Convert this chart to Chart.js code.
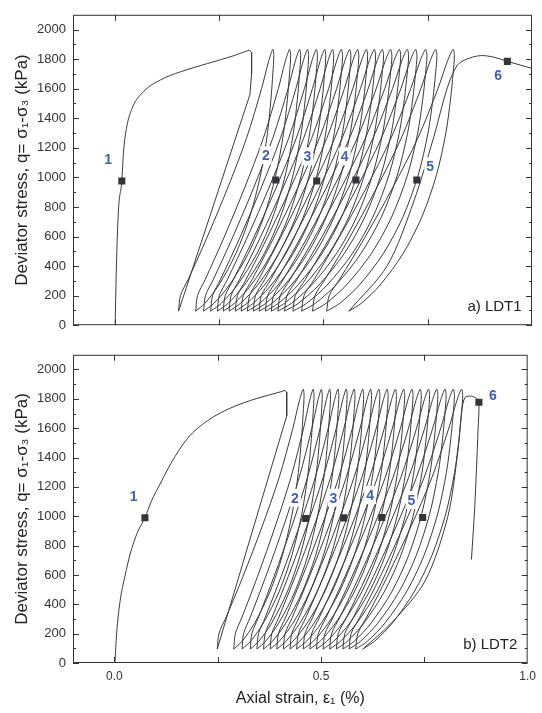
<!DOCTYPE html>
<html>
<head>
<meta charset="utf-8">
<script src="https://cdn.jsdelivr.net/npm/chart.js@4.4.1/dist/chart.umd.min.js"></script>
<style>
    html, body { margin: 0; padding: 0; background: #fff; }
    #wrap { position: relative; width: 542px; height: 713px; }
    #ldt1-chart { position: absolute; left: 0; top: 0; }
    #ldt2-chart { position: absolute; left: 0; top: 340px; }
</style>
</head>
<body>
<div id="wrap">
    <canvas id="ldt1-chart" width="542" height="340"></canvas>
    <canvas id="ldt2-chart" width="542" height="373"></canvas>
</div>
<script>
//////////////////////////////////////////////////////////////////////////////////////
//////////////////////----------------DATA----------------///////////////////////////
// axes
var xTickLabels = [0, 0.5, 1.0]
var xTickMarks = [0, 0.25, 0.5, 0.75]
var qTickLabels = [0, 200, 400, 600, 800, 1000, 1200, 1400, 1600, 1800, 2000]
var qMinorTicks = [100, 300, 500, 700, 900, 1100, 1300, 1500, 1700, 1900]

// a) LDT1 - first (monotonic) loading, then its unloading
var ldt1MonoX = [0.001, 0.004, 0.009, 0.017, 0.021, 0.028, 0.042, 0.070, 0.110, 0.158, 0.222, 0.286, 0.322]
var ldt1MonoQ = [0, 400, 780, 975, 1170, 1330, 1470, 1583, 1660, 1715, 1770, 1824, 1861]
var ldt1UnloadX = [0.322, 0.328, 0.328, 0.324, 0.153]
var ldt1UnloadQ = [1861, 1846, 1700, 1560, 95]
// cycles: strain at bottom of each unloading, strain at each peak
var ldt1BottomX = [0.153, 0.194, 0.213, 0.230, 0.246, 0.260, 0.274, 0.289, 0.303, 0.318, 0.332, 0.346, 0.361, 0.375, 0.391, 0.407, 0.427, 0.448, 0.474, 0.508, 0.561]
var ldt1PeakX = [0.379, 0.419, 0.443, 0.462, 0.483, 0.503, 0.522, 0.543, 0.563, 0.582, 0.603, 0.622, 0.641, 0.661, 0.682, 0.701, 0.721, 0.745, 0.769, 0.811]
var ldt1CycleQ = [95, 1866]
// last reloading up to failure
var ldt1FinalX = [0.561, 0.653, 0.717, 0.765, 0.797, 0.821, 0.845, 0.877, 0.909, 0.941, 0.973, 1.0]
var ldt1FinalQ = [95, 402, 840, 1277, 1606, 1759, 1802, 1824, 1813, 1785, 1759, 1737]
var ldt1MarkX = [0.017, 0.386, 0.484, 0.578, 0.724, 0.941]
var ldt1MarkQ = [975, 982, 976, 982, 982, 1785]
var ldt1LabelX = [-0.016, 0.362, 0.462, 0.551, 0.756, 0.919]
var ldt1LabelQ = [1124, 1150, 1142, 1142, 1076, 1693]

// b) LDT2
var ldt2MonoX = [0.0015, 0.0055, 0.0137, 0.0256, 0.040, 0.056, 0.074, 0.090, 0.108, 0.137, 0.177, 0.225, 0.281, 0.345, 0.405, 0.413]
var ldt2MonoQ = [0, 198, 417, 591, 760, 890, 990, 1105, 1205, 1360, 1530, 1650, 1737, 1803, 1850, 1858]
var ldt2UnloadX = [0.413, 0.417, 0.417, 0.249]
var ldt2UnloadQ = [1858, 1846, 1683, 95]
var ldt2BottomX = [0.249, 0.289, 0.309, 0.329, 0.345, 0.361, 0.377, 0.393, 0.409, 0.425, 0.441, 0.457, 0.473, 0.489, 0.505, 0.521, 0.537, 0.553, 0.568, 0.584, 0.601]
var ldt2PeakX = [0.457, 0.481, 0.501, 0.521, 0.541, 0.561, 0.580, 0.601, 0.620, 0.640, 0.660, 0.680, 0.700, 0.720, 0.740, 0.760, 0.780, 0.800, 0.820, 0.840]
var ldt2CycleQ = [95, 1866]
var ldt2FinalX = [0.601, 0.673, 0.752, 0.807, 0.831, 0.840, 0.848, 0.864, 0.876, 0.882, 0.880, 0.872, 0.864]
var ldt2FinalQ = [95, 280, 560, 1000, 1440, 1700, 1808, 1818, 1803, 1777, 1590, 1065, 705]
var ldt2MarkX = [0.074, 0.463, 0.555, 0.647, 0.746, 0.882]
var ldt2MarkQ = [990, 984, 989, 991, 991, 1777]
var ldt2LabelX = [0.047, 0.437, 0.530, 0.619, 0.719, 0.916]
var ldt2LabelQ = [1138, 1126, 1126, 1144, 1111, 1825]

var pointLabels = ['1', '2', '3', '4', '5', '6']

// loop shape (fraction of loop width / of stress range)
var reloadU = [0, 0.02, 0.10, 0.30, 0.52, 0.72, 0.88, 0.955, 1]
var reloadV = [0, 0.06, 0.12, 0.28, 0.47, 0.66, 0.85, 0.955, 1]
var unloadU = [1, 1.012, 1.0, 0.975, 0.93, 0.84, 0.70, 0.52, 0.30, 0.12, 0]
var unloadV = [1, 0.975, 0.91, 0.81, 0.68, 0.52, 0.36, 0.22, 0.10, 0.03, 0]

//////////////////////////////////////////////////////////////////////////////////////
var lineColor = '#3a3a3a'
var labelBlue = '#3f5fb8'
var textColor = '#333'
var fontFamily = "'Liberation Sans', Arial, sans-serif"

function toPoints(xs, qs) {
    return xs.map((x, i) => ({ x: x, y: qs[i] }))
}

function lineSet(points, tension) {
    return {
        data: points,
        showLine: true,
        borderColor: lineColor,
        borderWidth: 1,
        pointRadius: 0,
        tension: tension,
        order: 1
    }
}

//Each cycle: reload bottom[i] -> peak[i], unload peak[i] -> bottom[i+1]
function cycleSets(bottoms, peaks, cycleQ) {
    var qLo = cycleQ[0], qHi = cycleQ[1]
    var sets = []
    peaks.forEach((peak, i) => {
        var pts = []
        reloadU.forEach((u, k) => {
            pts.push({ x: bottoms[i] + u * (peak - bottoms[i]), y: qLo + reloadV[k] * (qHi - qLo) })
        })
        unloadU.forEach((u, k) => {
            if (k === 0) return
            pts.push({ x: bottoms[i + 1] + u * (peak - bottoms[i + 1]), y: qLo + unloadV[k] * (qHi - qLo) })
        })
        sets.push(lineSet(pts, 0.3))
    })
    return sets
}

function panelSets(monoX, monoQ, unX, unQ, bottoms, peaks, cycleQ, finalX, finalQ, markX, markQ) {
    var sets = [{
        data: toPoints(markX, markQ),
        pointStyle: 'rect',
        pointRadius: 5,
        backgroundColor: '#34343c',
        borderColor: '#34343c',
        borderWidth: 0,
        order: 0
    }]
    var mono = lineSet(toPoints(monoX, monoQ), 0)
    mono.cubicInterpolationMode = 'monotone'
    sets.push(mono)
    sets.push(lineSet(toPoints(unX, unQ), 0))
    sets = sets.concat(cycleSets(bottoms, peaks, cycleQ))
    sets.push(lineSet(toPoints(finalX, finalQ), 0.3))
    return sets
}

//Frame, inward ticks and point labels
function makeDecorPlugin(labelX, labelQ, tag) {
    return {
        id: 'decor',
        afterDatasetsDraw(chart) {
            var ctx = chart.ctx
            var a = chart.chartArea
            var x = chart.scales.x, y = chart.scales.y
            ctx.save()
            ctx.strokeStyle = '#333'
            ctx.lineWidth = 1
            ctx.strokeRect(a.left + 0.5, a.top + 0.5, a.right - a.left - 1, a.bottom - a.top - 1)
            ctx.beginPath()
            xTickMarks.forEach(v => {
                var px = Math.round(x.getPixelForValue(v)) + 0.5
                ctx.moveTo(px, a.bottom); ctx.lineTo(px, a.bottom - 6)
                ctx.moveTo(px, a.top); ctx.lineTo(px, a.top + 6)
            })
            qTickLabels.forEach(v => {
                var py = Math.round(y.getPixelForValue(v)) + 0.5
                ctx.moveTo(a.left, py); ctx.lineTo(a.left + 6, py)
                ctx.moveTo(a.right, py); ctx.lineTo(a.right - 6, py)
            })
            qMinorTicks.forEach(v => {
                var py = Math.round(y.getPixelForValue(v)) + 0.5
                ctx.moveTo(a.left, py); ctx.lineTo(a.left + 3, py)
                ctx.moveTo(a.right, py); ctx.lineTo(a.right - 3, py)
            })
            ctx.stroke()

            ctx.font = 'bold 14px ' + fontFamily
            ctx.textAlign = 'center'
            ctx.textBaseline = 'middle'
            pointLabels.forEach((t, i) => {
                var px = x.getPixelForValue(labelX[i])
                var py = y.getPixelForValue(labelQ[i])
                var w = ctx.measureText(t).width
                ctx.fillStyle = '#fff'
                ctx.fillRect(px - w / 2 - 2, py - 9, w + 4, 18)
                ctx.fillStyle = labelBlue
                ctx.fillText(t, px, py + 1)
            })

            ctx.font = '15px ' + fontFamily
            ctx.textAlign = 'right'
            ctx.fillStyle = '#222'
            ctx.fillText(tag, x.getPixelForValue(0.975), y.getPixelForValue(125))
            ctx.restore()
        }
    }
}

function makeChart(id, datasets, showX, padding, xHeight, decor) {
    return new Chart(document.getElementById(id), {
        type: 'scatter',
        data: { datasets: datasets },
        options: {
            responsive: false,
            animation: false,
            layout: { padding: padding },
            plugins: { legend: { display: false }, tooltip: { enabled: false } },
            scales: {
                x: {
                    type: 'linear', min: -0.1, max: 1.0,
                    grid: { display: false, drawTicks: false },
                    border: { display: false },
                    afterBuildTicks: s => { s.ticks = xTickLabels.map(v => ({ value: v })) },
                    afterFit: s => { s.height = xHeight },
                    ticks: {
                        display: showX, padding: 6, color: textColor,
                        font: { family: fontFamily, size: 12 },
                        callback: v => v.toFixed(1)
                    },
                    title: {
                        display: showX, text: 'Axial strain, ε₁ (%)', color: '#222',
                        font: { family: fontFamily, size: 16 },
                        padding: { top: 0, bottom: 5 }
                    }
                },
                y: {
                    type: 'linear', min: 0, max: 2100,
                    grid: { display: false, drawTicks: false },
                    border: { display: false },
                    afterBuildTicks: s => { s.ticks = qTickLabels.map(v => ({ value: v })) },
                    afterFit: s => { s.width = 73 },
                    ticks: {
                        padding: 7, color: textColor,
                        font: { family: fontFamily, size: 13 },
                        callback: v => String(v)
                    },
                    title: {
                        display: true, text: 'Deviator stress, q= σ₁-σ₃ (kPa)', color: '#222',
                        font: { family: fontFamily, size: 17 },
                        padding: { top: 12, bottom: 0 }
                    }
                }
            }
        },
        plugins: [decor]
    })
}

//TOP - LDT1
let ldt1Chart = makeChart('ldt1-chart',
    panelSets(ldt1MonoX, ldt1MonoQ, ldt1UnloadX, ldt1UnloadQ, ldt1BottomX, ldt1PeakX, ldt1CycleQ, ldt1FinalX, ldt1FinalQ, ldt1MarkX, ldt1MarkQ),
    false, { top: 8, right: 10, left: 0, bottom: 0 }, 12,
    makeDecorPlugin(ldt1LabelX, ldt1LabelQ, 'a) LDT1'))

//BOTTOM - LDT2
let ldt2Chart = makeChart('ldt2-chart',
    panelSets(ldt2MonoX, ldt2MonoQ, ldt2UnloadX, ldt2UnloadQ, ldt2BottomX, ldt2PeakX, ldt2CycleQ, ldt2FinalX, ldt2FinalQ, ldt2MarkX, ldt2MarkQ),
    true, { top: 3, right: 10, left: 0, bottom: 0 }, 50,
    makeDecorPlugin(ldt2LabelX, ldt2LabelQ, 'b) LDT2'))
</script>
</body>
</html>
